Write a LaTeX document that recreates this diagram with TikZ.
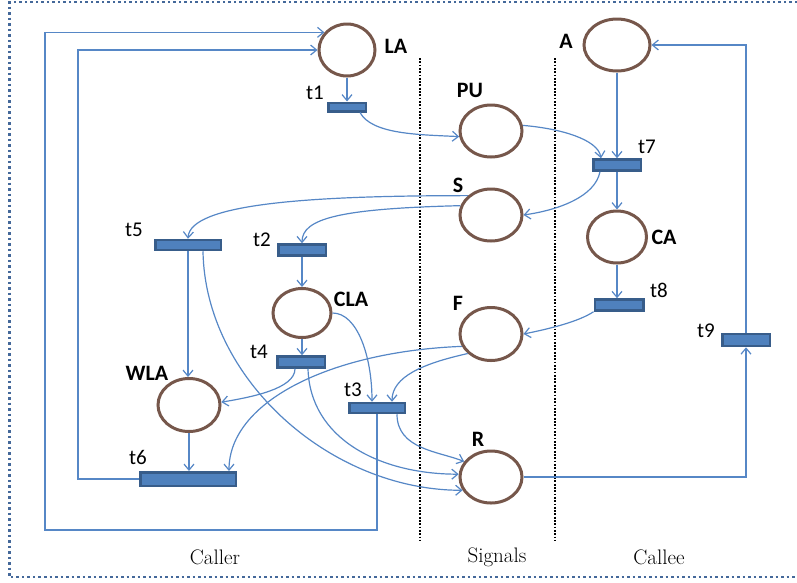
\documentclass[tikz,border=0pt]{standalone}
\usepackage{fontspec}
\newfontfamily\lblfont{Carlito}
\usepackage{tikz}
\usetikzlibrary{positioning,arrows.meta,shapes.geometric}
\definecolor{placebrown}{HTML}{76574B}
\definecolor{transfill}{HTML}{4F81BD}
\definecolor{transedge}{HTML}{385D8A}
\definecolor{arcblue}{HTML}{5687C6}
\definecolor{framedot}{HTML}{44689A}

\begin{document}
\begin{tikzpicture}[x=1pt,y=-1pt,
    place/.style={ellipse, draw=placebrown, line width=3pt, inner sep=0pt, minimum width=62pt, minimum height=52pt},
    trans/.style={rectangle, draw=transedge, fill=transfill, line width=2.5pt, inner sep=0pt, minimum width=47.5pt, minimum height=11pt},
    arc/.style={draw=arcblue, line width=1.2pt, -{Straight Barb[length=6pt,width=10pt]}},
    plabel/.style={font={\lblfont\bfseries\fontsize{22}{24}\selectfont}, inner sep=0pt},
    tlabel/.style={font={\lblfont\fontsize{21}{24}\selectfont}, inner sep=0pt},
    region/.style={font={\fontsize{21}{24}\selectfont}, inner sep=0pt},
    lane/.style={draw=black, line width=2.4pt, dash pattern=on 1.8pt off 1.5pt}]
\useasboundingbox (0,0) rectangle (797,582);
\draw[framedot, line width=2.5pt, dash pattern=on 2.5pt off 3pt] (797,2) -- (9.5,2) -- (9.5,577) -- (797,577);
\draw[lane] (420,58) -- (420,540);
\draw[lane] (555,58) -- (555,540);

% places
\node[place, minimum width=56pt] (LA) at (347,50) {};
\node[place, minimum width=66pt] (A) at (617,45) {};
\node[place] (PU) at (491,131) {};
\node[place] (S) at (491,215) {};
\node[place, minimum width=59pt] (CA) at (617,237) {};
\node[place, minimum width=58pt, minimum height=49pt] (CLA) at (302,313) {};
\node[place, minimum height=53pt] (WLA) at (189,405) {};
\node[place, minimum height=53pt] (F) at (491,334) {};
\node[place] (R) at (491,477) {};

% transitions
\node[trans, minimum width=37.5pt, minimum height=8.5pt] (t1) at (347,107) {};
\node[trans] (t7) at (617,165) {};
\node[trans, minimum width=65.5pt, minimum height=10pt] (t5) at (188,245) {};
\node[trans] (t2) at (302,250) {};
\node[trans, minimum width=48.5pt] (t8) at (619,305) {};
\node[trans, minimum height=12pt] (t9) at (746,340) {};
\node[trans] (t4) at (301,362) {};
\node[trans, minimum width=55.5pt, minimum height=10pt] (t3) at (377,408) {};
\node[trans, minimum width=95.5pt, minimum height=13.5pt] (t6) at (188,479) {};

% labels
\node[plabel] (LAl) at (396,46) {LA};
\node[plabel] (Al) at (566,41) {A};
\node[plabel] (PUl) at (470,90) {PU};
\node[plabel] (Sl) at (458,185) {S};
\node[plabel] (CAl) at (664,237) {CA};
\node[plabel] (CLAl) at (351,299) {CLA};
\node[plabel] (WLAl) at (147,373) {WLA};
\node[plabel] (Fl) at (458,303) {F};
\node[plabel] (Rl) at (478,439) {R};
\node[tlabel] (t1l) at (315,93) {t1};
\node[tlabel] (t7l) at (647,147) {t7};
\node[tlabel] (t5l) at (134,230) {t5};
\node[tlabel] (t2l) at (262,240) {t2};
\node[tlabel] (t8l) at (659,290) {t8};
\node[tlabel] (t9l) at (706,331) {t9};
\node[tlabel] (t4l) at (259,352) {t4};
\node[tlabel] (t3l) at (353,390) {t3};
\node[tlabel] (t6l) at (138,457) {t6};
\node[region] (caller) at (215,557) {Caller};
\node[region] (signals) at (497,557) {Signals};
\node[region] (callee) at (659,557) {Callee};

\coordinate (loopA) at (45,530);

% arcs
\draw[arc] (LA) -- (t1);
\draw[arc] ([xshift=13pt]t1.south) .. controls +(12,22) and +(-40,-2) .. (PU.190);
\draw[arc] (PU.10) .. controls +(37,3) and +(-3,-19) .. ([xshift=-16pt]t7.north);
\draw[arc] (A) -- (t7);
\draw[arc] (t7) -- (CA);
\draw[arc] ([xshift=-17pt]t7.south) .. controls +(-5,25) and +(35,-5) .. (S.east);
\draw[arc] (S.140) .. controls +(-160,0) and +(2,-35) .. (t5.north);
\draw[arc] (S.163) .. controls +(-120,3) and +(0,-25) .. (t2.north);
\draw[arc] (t2) -- (CLA);
\draw[arc] (CLA.south) -- (CLA.south |- t4.north);
\draw[arc] (CLA.east) .. controls +(25,0) and +(0,-45) .. ([xshift=-5pt]t3.north);
\draw[arc] (F.220) .. controls +(-45,10) and +(0,-25) .. ([xshift=15pt]t3.north);
\draw[arc] (F.203) .. controls +(-130,5) and +(0,-70) .. ([xshift=41pt]t6.north);
\draw[arc] ([xshift=-6pt]t4.south) .. controls +(0,20) and +(30,-5) .. (WLA.5);
\draw[arc] ([xshift=7pt]t4.south) .. controls +(2,70) and +(-79,0) .. (R.175);
\draw[arc] ([xshift=20pt]t3.south) .. controls +(0,35) and +(-25,-10) .. (R.150);
\draw[arc] (t5.south) -- (t5.south |- WLA.north);
\draw[arc] ([xshift=15pt]t5.south) .. controls +(2,128) and +(-132,0) .. (R.205);
\draw[arc] (WLA.south) -- (WLA.south |- t6.north);
\draw[arc] (t6.west) -- ++(-61,0) |- (LA.west);
\draw[arc] (t3.south) |- (loopA) |- (LA.142);
\draw[arc] (R.east) -| (t9.south);
\draw[arc] (t9.north) |- (A.east);
\draw[arc] (t8.south west) .. controls +(-15,10) and +(25,-5) .. (F.east);
\draw[arc] (CA.south) -- (CA.south |- t8.north);
\end{tikzpicture}
\end{document}
